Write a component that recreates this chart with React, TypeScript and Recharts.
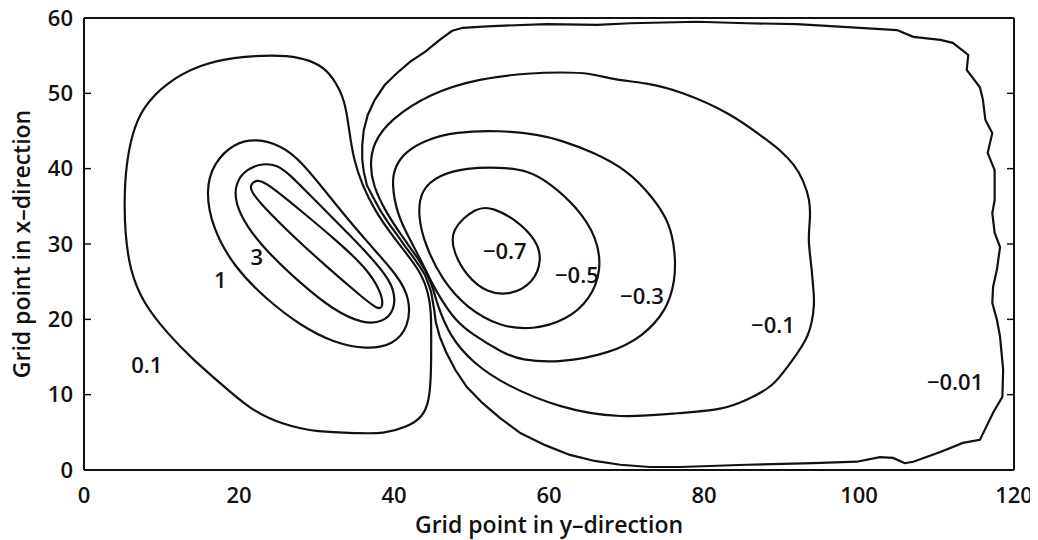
import { LineChart, Line, XAxis, YAxis, ReferenceDot } from "recharts"

const FONT = "'Open Sans', 'DejaVu Sans', sans-serif"
const INK = "#111111"

const xTicks = [0, 20, 40, 60, 80, 100, 120]
const yTicks = [0, 10, 20, 30, 40, 50, 60]

// closed contour paths as [y-direction grid point, x-direction grid point]
const levelInner: [number, number][] = [
  [21.4, 37.8], [22.3, 38.6], [23.6, 38.1], [27.9, 34.5], [32.2, 30.8], [36.5, 26.8],
  [38.4, 23.5], [38.6, 21.7], [38.0, 21.2], [35.6, 23.2], [31.3, 27.0], [27.0, 31.0],
  [23.1, 35.0], [21.6, 36.9],
]

const level3: [number, number][] = [
  [23.1, 40.7], [21.0, 40.0], [19.5, 38.1], [19.5, 35.4], [21.0, 32.3], [23.6, 29.0],
  [27.9, 24.8], [32.2, 21.2], [36.0, 19.4], [38.6, 19.6], [40.1, 21.2], [40.1, 23.9],
  [38.6, 26.5], [34.3, 31.2], [30.0, 35.6], [26.6, 39.2], [24.9, 40.5],
]

const level1: [number, number][] = [
  [22.3, 44.0], [19.3, 43.4], [16.7, 40.7], [15.7, 37.2], [16.5, 32.3], [19.3, 27.0],
  [23.6, 22.6], [27.9, 19.2], [32.2, 16.9], [36.5, 16.0], [39.9, 16.6], [41.9, 19.0],
  [42.1, 22.6], [40.6, 25.7], [36.5, 30.3], [32.2, 35.6], [27.9, 41.2], [25.3, 43.1],
]

const level01: [number, number][] = [
  [24.4, 55.1], [27.9, 54.8], [30.5, 53.8], [32.1, 52.2], [33.7, 49.1], [34.2, 45.1],
  [34.8, 41.2], [35.9, 37.8], [37.5, 34.5], [39.7, 31.2], [42.1, 28.1], [43.6, 25.9],
  [44.4, 23.6], [44.8, 21.2], [44.8, 17.3], [44.8, 13.3], [44.6, 9.3], [43.7, 7.0],
  [41.7, 5.7], [38.6, 4.8], [35.6, 4.9], [30.1, 5.0], [25.7, 6.0], [21.4, 8.0],
  [17.2, 11.9], [14.1, 14.6], [10.7, 18.2], [7.6, 22.2], [5.9, 26.6], [5.3, 31.5],
  [5.2, 35.8], [5.4, 40.2], [6.2, 44.7], [7.6, 48.2], [10.7, 51.5], [15.0, 53.8],
  [19.2, 54.8],
]

const levelM001: [number, number][] = [
  [47.5, 58.3], [48.9, 58.7], [52.0, 58.9], [59.7, 59.2], [66.2, 59.1], [70.5, 59.3],
  [79.1, 59.5], [85.5, 59.3], [92.0, 59.2], [98.5, 58.8], [104.9, 58.4], [107.0, 57.5],
  [110.5, 57.1], [112.1, 56.7], [114.1, 55.1], [113.9, 53.1], [115.6, 50.8], [116.0, 49.1],
  [116.3, 46.5], [117.2, 44.7], [116.6, 42.1], [117.5, 39.8], [117.5, 35.8], [117.2, 34.1],
  [117.5, 31.5], [118.2, 29.6], [117.8, 26.6], [117.3, 24.3], [117.2, 22.2], [117.8, 19.9],
  [118.2, 17.7], [118.6, 13.3], [118.5, 9.7], [117.3, 7.6], [115.6, 4.0], [113.4, 3.6],
  [110.5, 2.4], [107.0, 1.1], [105.9, 0.9], [104.4, 1.6], [102.7, 1.7], [99.7, 1.1],
  [94.1, 0.9], [85.5, 0.7], [76.9, 0.4], [73.0, 0.4], [69.2, 0.7], [65.9, 1.2],
  [62.7, 2.0], [59.5, 3.3], [56.3, 4.9], [53.7, 6.9], [51.4, 8.9], [49.4, 11.0],
  [47.9, 13.3], [46.7, 15.7], [45.9, 17.7], [45.4, 19.6], [45.2, 21.2], [45.0, 22.4],
  [44.8, 23.6], [44.4, 24.8], [44.0, 25.9], [43.4, 26.9], [42.6, 28.1], [41.5, 29.6],
  [40.4, 31.2], [39.2, 32.9], [38.2, 34.5], [37.3, 36.2], [36.5, 37.8], [36.1, 39.6],
  [35.9, 41.2], [35.9, 43.1], [36.1, 45.1], [36.6, 47.1], [37.5, 49.1], [38.8, 51.1],
  [40.4, 52.7], [42.1, 54.2], [44.0, 55.5], [45.9, 57.1],
]

const levelM01: [number, number][] = [
  [45.5, 22.2], [45.2, 23.6], [44.4, 25.9], [43.1, 28.1], [40.9, 31.2], [38.8, 34.5],
  [37.3, 37.8], [36.9, 40.5], [37.3, 43.4], [39.5, 46.5], [44.6, 50.0], [51.1, 52.0],
  [57.5, 52.7], [61.8, 52.8], [65.3, 52.7], [68.3, 51.8], [72.6, 51.4], [76.9, 50.3],
  [83.4, 47.4], [88.1, 43.8], [89.8, 42.5], [91.7, 40.5], [92.8, 38.5], [93.7, 35.8],
  [93.7, 33.2], [93.4, 30.5], [93.9, 26.9], [94.1, 23.9], [94.3, 22.2], [93.7, 17.7],
  [91.1, 14.2], [88.9, 11.0], [85.5, 9.3], [82.5, 8.0], [76.9, 7.6], [69.2, 6.8],
  [61.4, 8.2], [54.3, 11.3], [50.2, 14.2], [47.2, 17.7],
]

const levelM03: [number, number][] = [
  [46.1, 22.6], [44.9, 24.8], [43.6, 27.6], [42.1, 30.5], [40.4, 33.9], [39.7, 38.1],
  [40.1, 40.2], [41.4, 42.2], [44.0, 43.8], [47.9, 44.9], [53.7, 45.1], [58.8, 44.5],
  [61.4, 43.8], [65.7, 42.2], [70.1, 39.8], [73.4, 36.2], [75.6, 32.8], [76.3, 28.8],
  [76.3, 25.2], [75.2, 21.2], [72.1, 17.7], [67.9, 15.5], [61.4, 14.2], [56.3, 14.6],
  [54.1, 15.5], [49.8, 18.2], [47.9, 19.9],
]

const levelM05: [number, number][] = [
  [46.2, 25.2], [44.0, 29.9], [43.1, 33.6], [43.4, 37.2], [45.9, 39.2], [49.3, 40.1],
  [53.7, 40.2], [57.2, 39.8], [60.1, 38.1], [63.6, 34.9], [66.2, 30.9], [66.8, 26.5],
  [65.3, 22.6], [62.3, 19.9], [57.9, 18.6], [53.7, 19.0], [49.4, 21.5],
]

const levelM07: [number, number][] = [
  [50.7, 35.0], [47.2, 31.9], [47.7, 28.8], [49.4, 25.7], [52.0, 23.5], [55.0, 23.2],
  [58.0, 24.8], [59.1, 27.9], [58.4, 30.5], [55.8, 33.2], [52.8, 34.8],
]

const contourLabels: { x: number; y: number; text: string }[] = [
  { x: 8.1, y: 13.9, text: "0.1" },
  { x: 17.6, y: 25.2, text: "1" },
  { x: 22.3, y: 28.3, text: "3" },
  { x: 54.3, y: 29.0, text: "\u22120.7" },
  { x: 63.6, y: 25.9, text: "\u22120.5" },
  { x: 72.0, y: 23.1, text: "\u22120.3" },
  { x: 88.9, y: 19.2, text: "\u22120.1" },
  { x: 112.4, y: 11.7, text: "\u22120.01" },
]

const contours = [
  { id: "inner", path: levelInner, curve: "basisClosed" },
  { id: "3", path: level3, curve: "basisClosed" },
  { id: "1", path: level1, curve: "basisClosed" },
  { id: "0.1", path: level01, curve: "basisClosed" },
  { id: "-0.01", path: levelM001, curve: "linearClosed" },
  { id: "-0.1", path: levelM01, curve: "basisClosed" },
  { id: "-0.3", path: levelM03, curve: "basisClosed" },
  { id: "-0.5", path: levelM05, curve: "basisClosed" },
  { id: "-0.7", path: levelM07, curve: "basisClosed" },
]

const toPoints = (path: [number, number][]) => path.map(([x, y]) => ({ x, y }))

const tickFont = { fill: INK, fontSize: 22, fontWeight: 600 }
const frame = { stroke: INK, strokeWidth: 2 }
const tickMark = { stroke: INK, strokeWidth: 1.5 }
const NoLabel = () => <g />

export default function App() {
  return (
    <div style={{ fontFamily: FONT, width: 1038, height: 540, marginTop: -8, marginLeft: -8 }}>
      <LineChart width={1038} height={540} margin={{ top: 18, right: 24, bottom: 0, left: 10 }}>
        <XAxis
          dataKey="x"
          type="number"
          domain={[0, 120]}
          ticks={xTicks}
          allowDataOverflow
          height={70}
          tickLine={false}
          tickSize={0}
          tickMargin={17}
          tick={tickFont}
          axisLine={frame}
          label={{ value: "Grid point in y\u2013direction", position: "insideBottom", offset: 7, fill: INK, fontSize: 23, fontWeight: 600 }}
        />
        {/* inward tick marks on all four sides */}
        <XAxis xAxisId="bm" type="number" domain={[0, 120]} ticks={xTicks} allowDataOverflow mirror
          tick={NoLabel} tickSize={7} axisLine={false} tickLine={tickMark} />
        <XAxis xAxisId="top" orientation="top" type="number" domain={[0, 120]} ticks={xTicks} allowDataOverflow mirror
          tick={NoLabel} tickSize={7} axisLine={frame} tickLine={tickMark} />
        <YAxis
          type="number"
          domain={[0, 60]}
          ticks={yTicks}
          allowDataOverflow
          width={74}
          tickLine={false}
          tickSize={0}
          tickMargin={11}
          tick={tickFont}
          axisLine={frame}
          label={{ value: "Grid point in x\u2013direction", angle: -90, position: "insideLeft", offset: 12, fill: INK, fontSize: 23, fontWeight: 600, style: { textAnchor: "middle" } }}
        />
        <YAxis yAxisId="lm" type="number" domain={[0, 60]} ticks={yTicks} allowDataOverflow mirror
          tick={NoLabel} tickSize={7} axisLine={false} tickLine={tickMark} />
        <YAxis yAxisId="right" orientation="right" type="number" domain={[0, 60]} ticks={yTicks} allowDataOverflow mirror
          tick={NoLabel} tickSize={7} axisLine={frame} tickLine={tickMark} />

        {contours.map((c) => (
          <Line
            key={c.id}
            data={toPoints(c.path)}
            dataKey="y"
            type={c.curve as any}
            stroke={INK}
            strokeWidth={2.2}
            dot={false}
            activeDot={false}
            isAnimationActive={false}
          />
        ))}

        {contourLabels.map((l) => (
          <ReferenceDot
            key={l.text}
            x={l.x}
            y={l.y}
            r={0}
            fill="none"
            stroke="none"
            label={{ value: l.text, position: "center", fill: INK, fontSize: 22, fontWeight: 600 }}
          />
        ))}
      </LineChart>
    </div>
  )
}
